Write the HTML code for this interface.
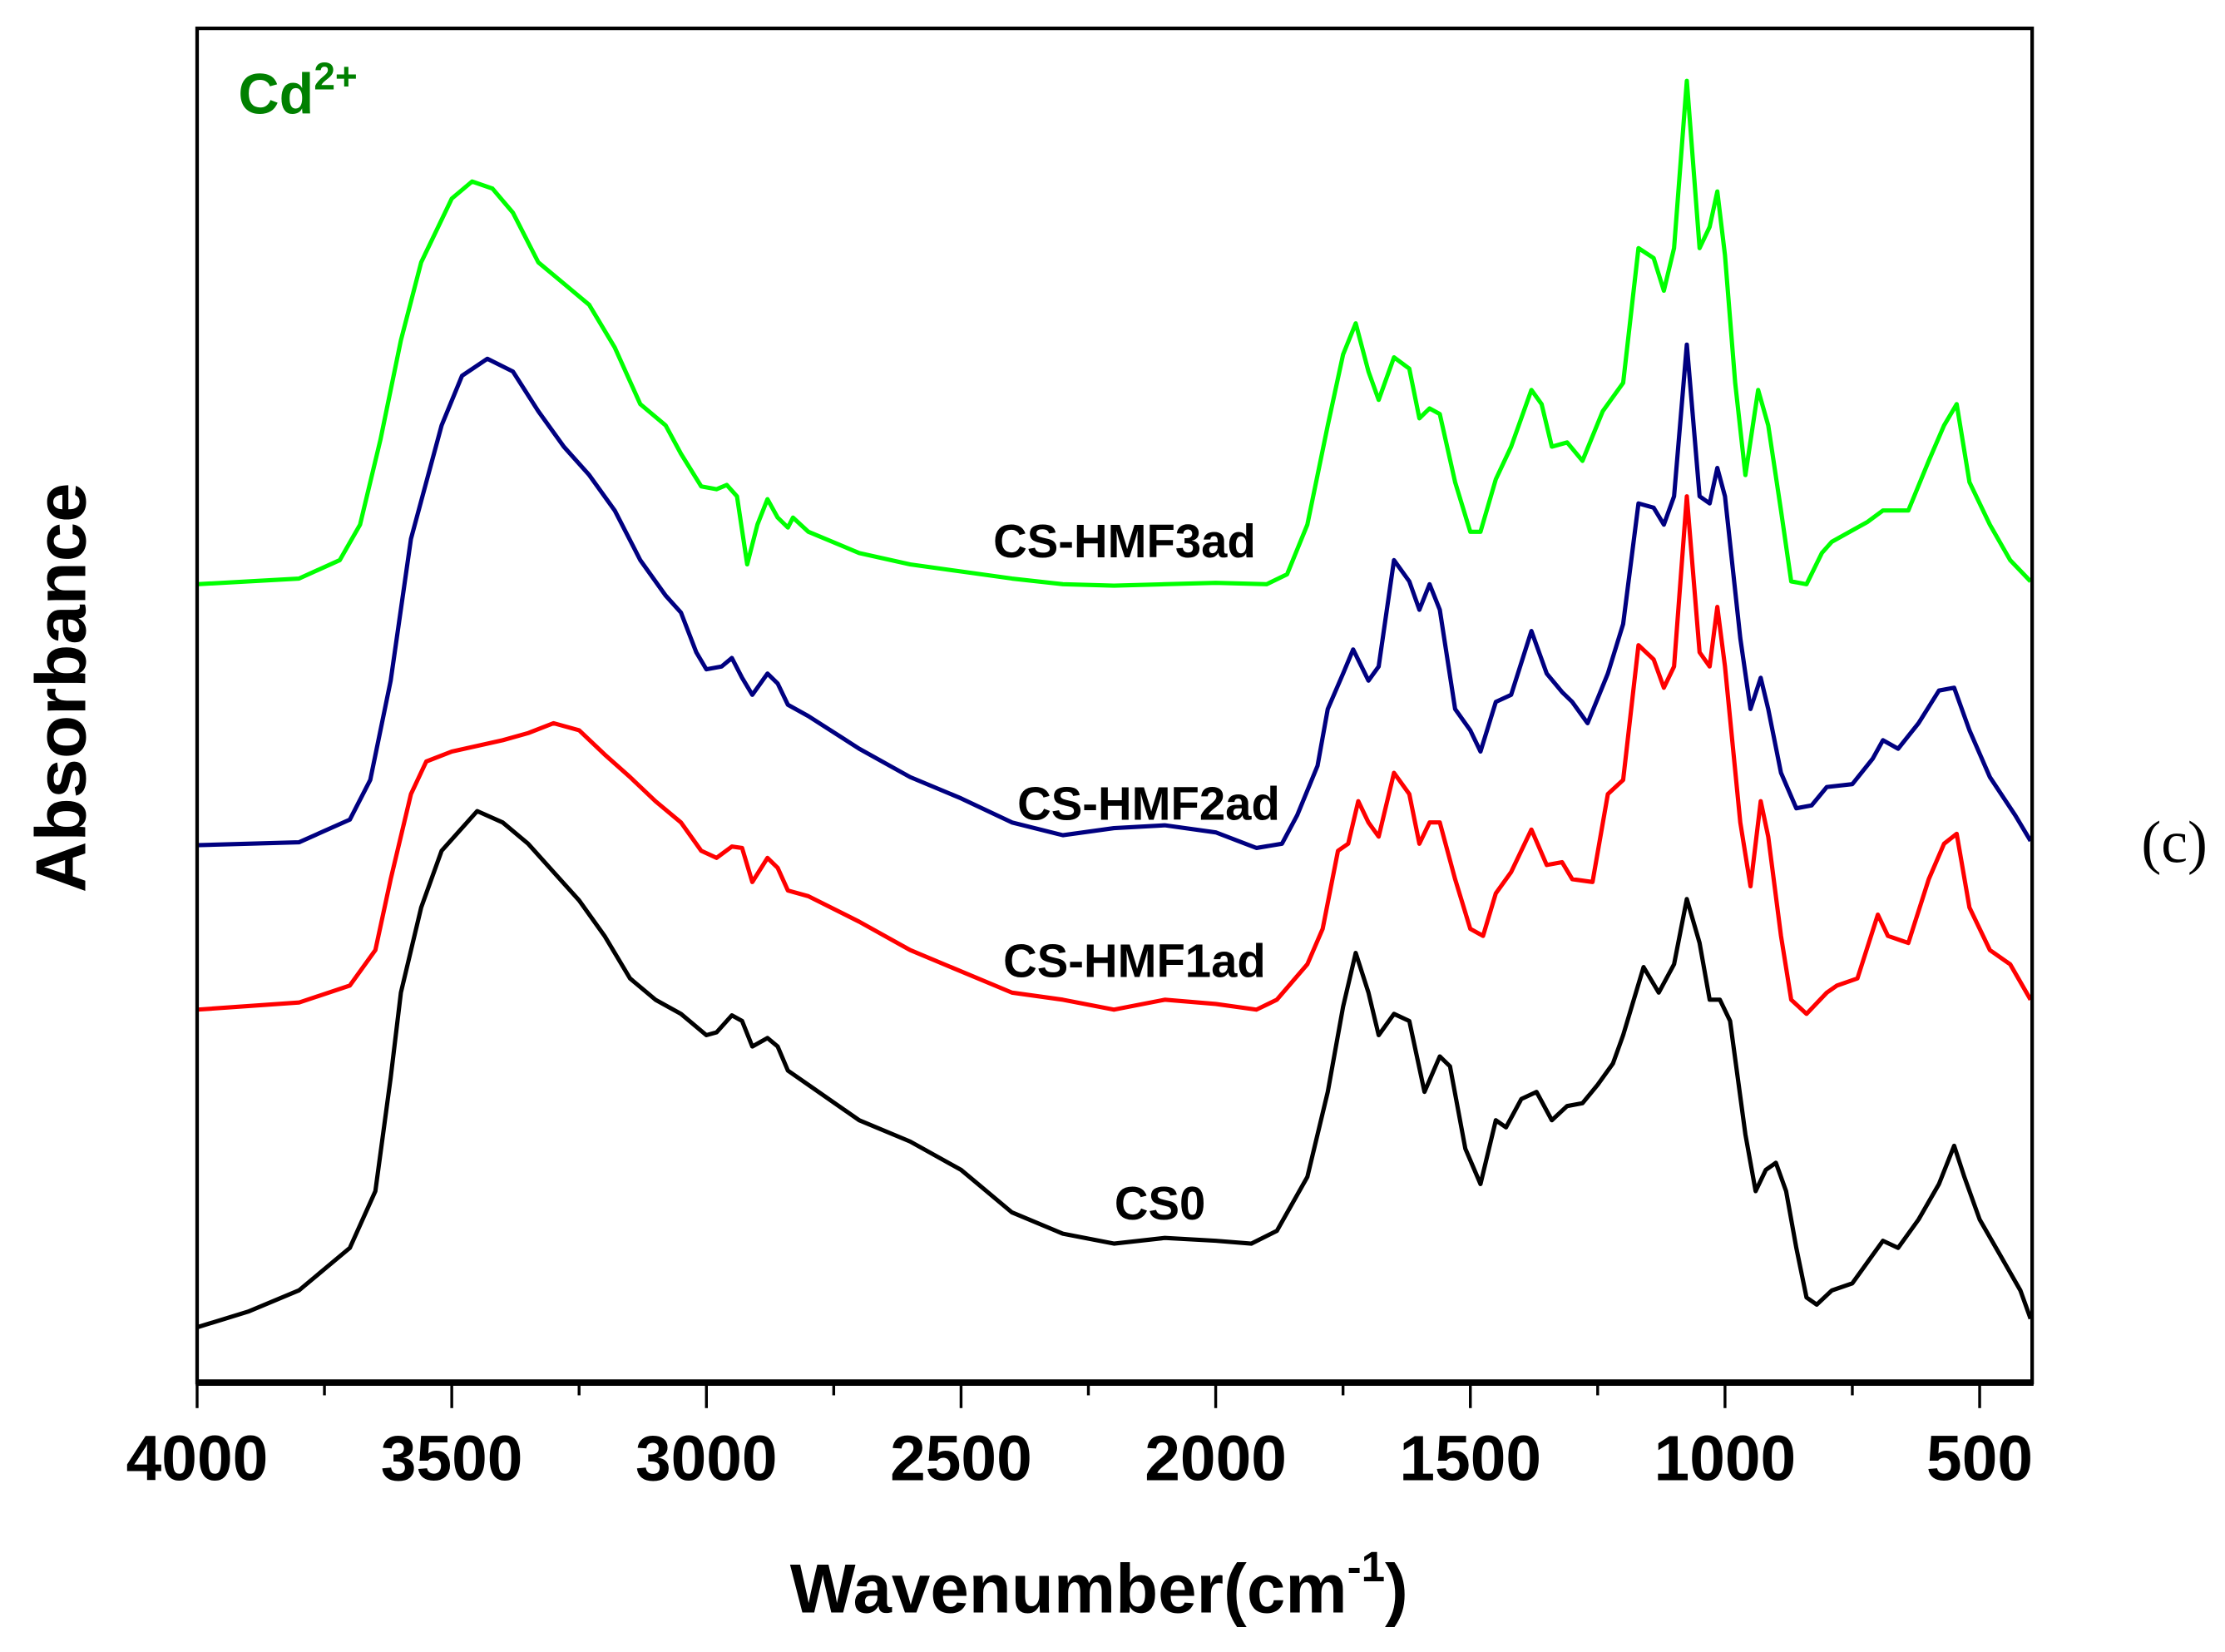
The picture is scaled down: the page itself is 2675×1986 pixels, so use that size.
<!DOCTYPE html>
<html><head><meta charset="utf-8"><style>
html,body{margin:0;padding:0;background:#fff}
svg{display:block}
text{font-family:"Liberation Sans",Arial,sans-serif;font-weight:bold}
</style></head><body>
<svg id="chart" width="2675" height="1986" viewBox="0 0 1569 1165" preserveAspectRatio="none" xmlns="http://www.w3.org/2000/svg">
<g id="series"></g>
<rect x="139" y="20" width="1294" height="955" fill="none" stroke="#000" stroke-width="2.5"/>
<line x1="138" y1="975" x2="1434" y2="975" stroke="#000" stroke-width="4.5"/>
<g id="ticks"></g>
<text x="168" y="80" fill="#008000" font-size="40">Cd<tspan dy="-17" font-size="27">2+</tspan></text>
<text x="793" y="393" text-anchor="middle" font-size="33">CS-HMF3ad</text>
<text x="810" y="578" text-anchor="middle" font-size="33">CS-HMF2ad</text>
<text x="800" y="689" text-anchor="middle" font-size="33">CS-HMF1ad</text>
<text x="818" y="860" text-anchor="middle" font-size="33">CS0</text>
<text x="775" y="1137" text-anchor="middle" font-size="49">Wavenumber(cm<tspan dy="-22" font-size="30">-1</tspan><tspan dy="22">)</tspan></text>
<text transform="translate(60,485) rotate(-90)" text-anchor="middle" font-size="50">Absorbance</text>
<text x="1510" y="608" font-size="42" style="font-family:'Liberation Serif',serif;font-weight:normal">(c)</text>
</svg>
<script>
const tickValues=[4000,3500,3000,2500,2000,1500,1000,500];
const minorTicks=[3750,3250,2750,2250,1750,1250,750];
const seriesNames=["CS0","CS-HMF1ad","CS-HMF2ad","CS-HMF3ad"];
const seriesColors=["#000000","#ff0000","#000080","#00ff00"];
const wnCS0=[4000,3900,3800,3700,3650,3620,3600,3560,3520,3450,3400,3350,3300,3250,3200,3150,3100,3050,3000,2980,2950,2930,2910,2880,2860,2840,2800,2700,2600,2500,2400,2300,2200,2100,2000,1930,1880,1820,1780,1750,1725,1700,1680,1650,1620,1590,1560,1540,1510,1480,1450,1430,1400,1370,1340,1310,1280,1250,1220,1200,1160,1130,1100,1075,1050,1030,1010,990,960,940,920,900,880,860,840,820,790,750,710,690,660,620,580,550,530,500,460,420,400];
const absCS0=[39,50,65,95,135,215,275,335,375,403,395,380,360,340,315,285,270,260,245,247,259,255,237,243,237,220,210,185,170,150,120,105,98,102,100,98,107,145,205,265,303,275,245,260,255,205,230,223,165,140,185,180,200,205,185,195,197,210,225,245,293,275,295,341,310,270,270,255,175,135,150,155,135,95,60,55,65,70,90,100,95,115,140,167,145,115,90,65,45];
const wnHMF1=[4000,3800,3700,3650,3620,3580,3550,3500,3400,3350,3300,3250,3200,3150,3100,3050,3010,2980,2950,2930,2910,2880,2860,2840,2800,2700,2600,2500,2400,2300,2200,2100,2000,1920,1880,1820,1790,1760,1740,1720,1700,1680,1650,1620,1600,1580,1560,1530,1500,1475,1450,1420,1380,1350,1320,1300,1260,1230,1200,1170,1140,1120,1100,1075,1050,1030,1015,1000,970,950,930,915,890,870,840,800,780,740,700,680,640,600,570,545,520,480,440,400];
const absHMF1=[263,268,280,305,355,415,438,445,453,458,465,460,443,427,410,395,375,370,378,377,353,370,363,347,343,325,305,290,275,270,263,270,267,263,270,295,320,375,380,410,395,385,430,415,380,395,395,355,320,315,345,360,390,365,367,355,353,415,425,520,510,490,505,625,515,505,547,505,395,350,410,385,315,270,260,275,280,285,330,315,310,355,380,387,335,305,295,270];
const wnHMF2=[4000,3800,3700,3660,3620,3580,3520,3480,3430,3380,3330,3280,3230,3180,3130,3080,3050,3020,3000,2970,2950,2930,2910,2880,2860,2840,2800,2700,2600,2500,2400,2300,2200,2100,2000,1920,1870,1840,1800,1780,1750,1730,1700,1680,1650,1620,1600,1580,1560,1530,1500,1480,1450,1420,1380,1350,1320,1300,1270,1230,1200,1170,1140,1120,1100,1075,1050,1030,1015,1000,970,950,930,915,890,860,830,800,750,710,690,660,620,580,550,520,480,430,400];
const absHMF2=[379,381,397,425,495,595,675,710,722,713,685,660,640,615,580,555,543,515,503,505,511,497,485,500,493,478,470,447,427,412,395,386,391,393,388,377,380,400,435,475,500,517,495,505,580,565,545,563,545,475,460,445,480,485,530,500,487,480,465,500,535,620,617,605,625,732,625,620,645,625,525,475,497,475,430,405,407,420,422,440,453,447,465,488,490,460,427,400,382];
const wnHMF3=[4000,3800,3720,3680,3640,3600,3560,3500,3460,3420,3380,3330,3280,3230,3180,3130,3080,3050,3010,2980,2960,2940,2920,2900,2880,2860,2840,2830,2800,2700,2600,2500,2400,2300,2200,2100,2000,1900,1860,1820,1780,1750,1725,1700,1680,1650,1620,1600,1580,1560,1530,1500,1480,1450,1420,1380,1360,1340,1310,1280,1240,1200,1170,1140,1120,1100,1075,1050,1030,1015,1000,980,960,935,915,890,870,840,810,790,720,690,640,600,570,545,520,480,440,400];
const absHMF3=[563,567,580,605,665,735,790,835,847,842,825,790,775,760,730,690,675,655,632,630,633,625,577,605,623,610,603,610,600,585,577,572,567,563,562,563,564,563,570,605,675,725,747,713,693,723,715,680,687,683,635,600,600,637,660,700,690,660,663,650,685,705,800,793,770,800,918,800,815,840,795,705,640,700,675,615,565,563,585,593,607,615,615,650,675,690,635,605,580,565];
const seriesWn=[wnCS0,wnHMF1,wnHMF2,wnHMF3];
const seriesAbs=[absCS0,absHMF1,absHMF2,absHMF3];

const NS="http://www.w3.org/2000/svg";
function xScale(wn){return 139+(4000-wn)*0.35914;}
function yScale(a){return 975-a;}

const sg=document.getElementById('series');
for(let s=0;s<seriesWn.length;s++){
  const p=document.createElementNS(NS,'polyline');
  
  
  const pts=seriesWn[s].map((w,i)=>xScale(w).toFixed(1)+','+yScale(seriesAbs[s][i]).toFixed(1)).join(' ');
  p.setAttribute('points',pts);
  p.setAttribute('fill','none');
  p.setAttribute('stroke',seriesColors[s]);
  p.setAttribute('stroke-width','3');
  p.setAttribute('stroke-linejoin','round');
  sg.appendChild(p);
}
const tg=document.getElementById('ticks');
tickValues.forEach(v=>{
  const l=document.createElementNS(NS,'line');
  
  
  l.setAttribute('x1',xScale(v));l.setAttribute('x2',xScale(v));
  l.setAttribute('y1',975);l.setAttribute('y2',993);
  l.setAttribute('stroke','#000');l.setAttribute('stroke-width','2');
  tg.appendChild(l);
  const t=document.createElementNS(NS,'text');
  
  
  t.setAttribute('x',xScale(v));t.setAttribute('y',1044);
  t.setAttribute('text-anchor','middle');t.setAttribute('font-size','45');
  t.textContent=v;
  tg.appendChild(t);
});
minorTicks.forEach(v=>{
  const l=document.createElementNS(NS,'line');
  
  
  l.setAttribute('x1',xScale(v));l.setAttribute('x2',xScale(v));
  l.setAttribute('y1',975);l.setAttribute('y2',984);
  l.setAttribute('stroke','#000');l.setAttribute('stroke-width','2');
  tg.appendChild(l);
});
</script>
</body></html>
